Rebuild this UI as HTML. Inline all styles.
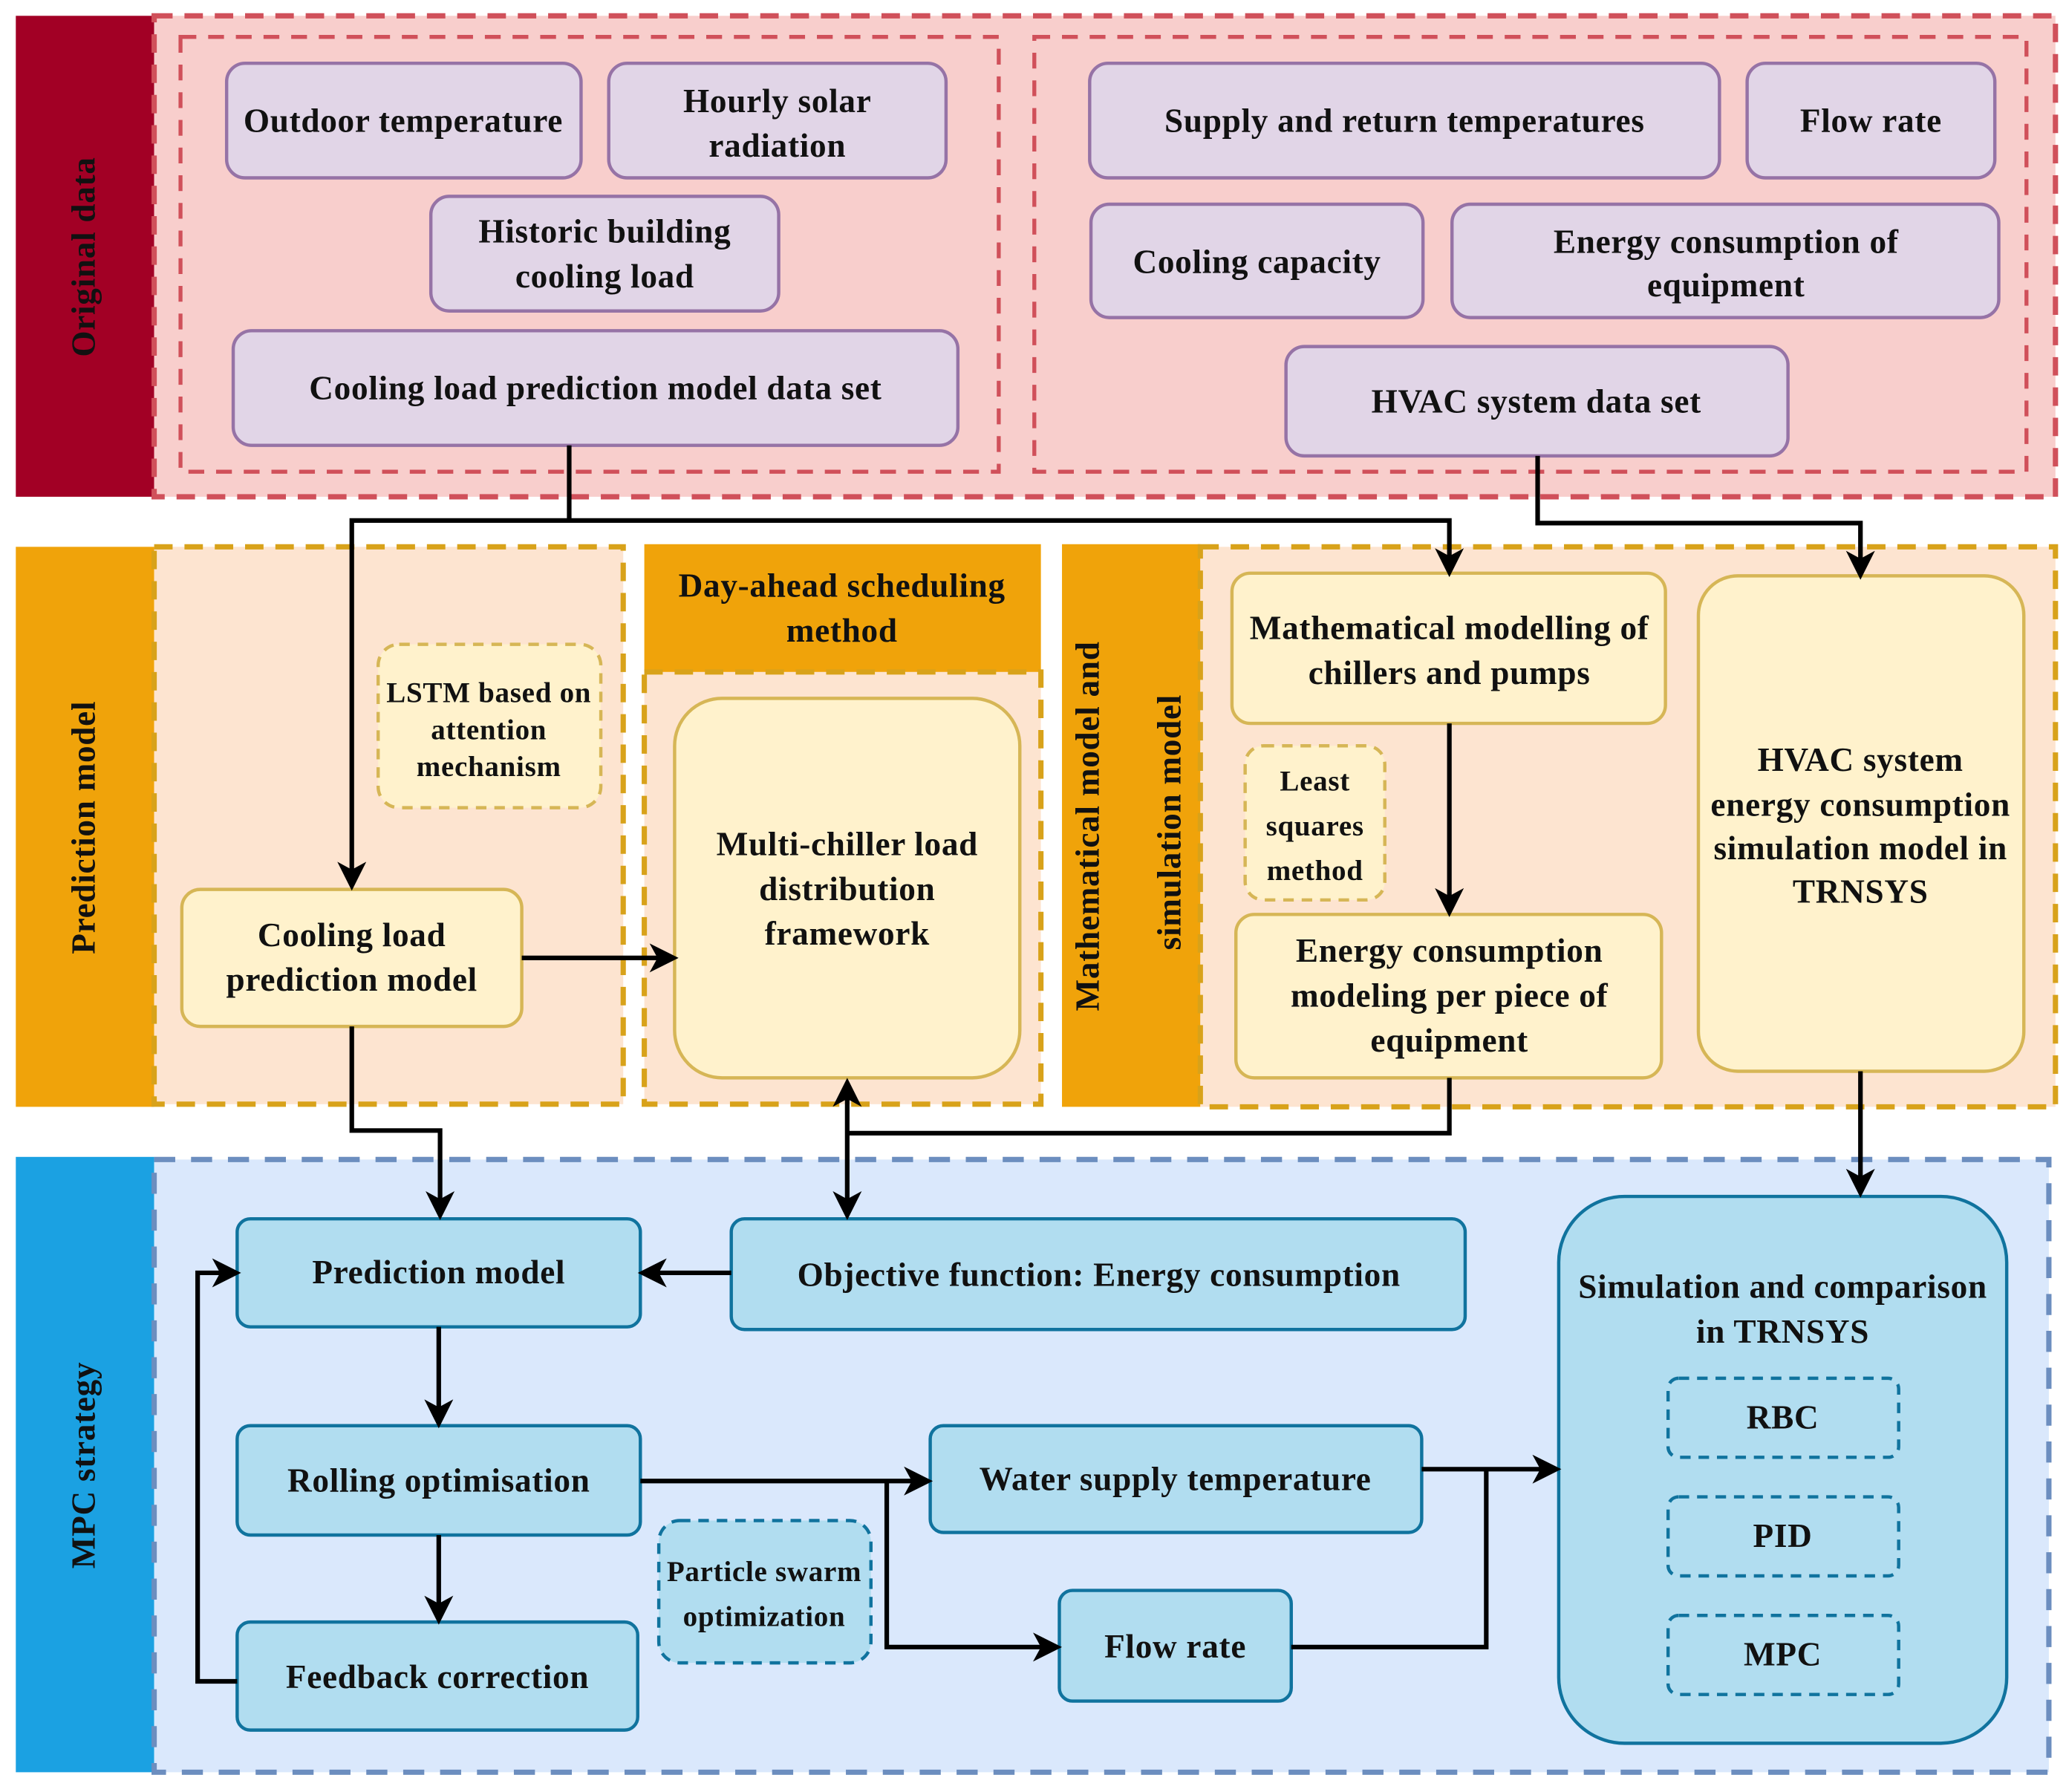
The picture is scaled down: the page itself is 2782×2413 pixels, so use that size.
<!DOCTYPE html>
<html><head><meta charset="utf-8"><style>
html,body{margin:0;padding:0;background:#fff;}
svg{display:block;}
text{font-family:"Liberation Serif",serif;font-weight:bold;fill:#111;letter-spacing:0.4px;}
</style></head><body>
<svg width="2782" height="2413" viewBox="0 0 1568 1360" preserveAspectRatio="none" xmlns="http://www.w3.org/2000/svg">
<defs>
<marker id="ar2" markerWidth="22" markerHeight="22" refX="18" refY="11" orient="auto" markerUnits="userSpaceOnUse" viewBox="0 0 22 22">
<path d="M0,0 L22,11 L0,22 L6,11 z" fill="#000"/></marker>
<marker id="ars" markerWidth="22" markerHeight="22" refX="4" refY="11" orient="auto" markerUnits="userSpaceOnUse" viewBox="0 0 22 22">
<path d="M22,0 L0,11 L22,22 L16,11 z" fill="#000"/></marker>
</defs>

<!-- Band 1 -->
<rect x="12" y="12" width="105" height="365" fill="#a20025"/>
<text transform="translate(72,195) rotate(-90)" text-anchor="middle" font-size="25.5">Original data</text>
<rect x="117" y="12" width="1443" height="365" fill="#f8cecc" stroke="#d0505a" stroke-width="4" stroke-dasharray="14,9"/>
<rect x="137" y="28" width="621" height="330" fill="none" stroke="#d0505a" stroke-width="3" stroke-dasharray="12,9"/>
<rect x="785" y="28" width="753" height="330" fill="none" stroke="#d0505a" stroke-width="3" stroke-dasharray="12,9"/>

<g fill="#e1d5e7" stroke="#9673a6" stroke-width="2.5">
<rect x="172" y="48" width="269" height="87" rx="14"/>
<rect x="462" y="48" width="256" height="87" rx="14"/>
<rect x="327" y="149" width="264" height="87" rx="14"/>
<rect x="177" y="251" width="550" height="87" rx="14"/>
<rect x="827" y="48" width="478" height="87" rx="14"/>
<rect x="1326" y="48" width="188" height="87" rx="14"/>
<rect x="828" y="155" width="252" height="86" rx="14"/>
<rect x="1102" y="155" width="415" height="86" rx="14"/>
<rect x="976" y="263" width="381" height="83" rx="14"/>
</g>
<g font-size="25.5" text-anchor="middle">
<text x="306" y="100">Outdoor temperature</text>
<text x="590" y="85">Hourly solar</text><text x="590" y="119">radiation</text>
<text x="459" y="184">Historic building</text><text x="459" y="218">cooling load</text>
<text x="452" y="303">Cooling load prediction model data set</text>
<text x="1066" y="100">Supply and return temperatures</text>
<text x="1420" y="100">Flow rate</text>
<text x="954" y="207">Cooling capacity</text>
<text x="1310" y="192">Energy consumption of</text><text x="1310" y="225">equipment</text>
<text x="1166" y="313">HVAC system data set</text>
</g>

<!-- Band 2 -->
<rect x="12" y="415" width="105" height="425" fill="#f0a30a"/>
<text transform="translate(72,628) rotate(-90)" text-anchor="middle" font-size="25.5">Prediction model</text>
<rect x="117" y="415" width="356" height="423" fill="#fde4d0" stroke="#d8a21a" stroke-width="4" stroke-dasharray="14,9"/>
<rect x="489" y="413" width="301" height="97" fill="#f0a30a"/>
<text x="639" y="453" text-anchor="middle" font-size="25.5">Day-ahead scheduling</text>
<text x="639" y="487" text-anchor="middle" font-size="25.5">method</text>
<rect x="489" y="510" width="301" height="328" fill="#fde4d0" stroke="#d8a21a" stroke-width="4" stroke-dasharray="14,9"/>
<rect x="806" y="413" width="105" height="427" fill="#f0a30a"/>
<text transform="translate(834,627) rotate(-90)" text-anchor="middle" font-size="25.5">Mathematical model and</text>
<text transform="translate(896,624) rotate(-90)" text-anchor="middle" font-size="25.5">simulation model</text>
<rect x="911" y="415" width="649" height="425" fill="#fde4d0" stroke="#d8a21a" stroke-width="4" stroke-dasharray="14,9"/>

<g fill="#fff2cc" stroke="#d6b656" stroke-width="2.5">
<rect x="287" y="489" width="169" height="124" rx="16" stroke-dasharray="8,6"/>
<rect x="138" y="675" width="258" height="104" rx="14"/>
<rect x="512" y="530" width="262" height="288" rx="36"/>
<rect x="935" y="435" width="329" height="114" rx="14"/>
<rect x="945" y="566" width="106" height="117" rx="14" stroke-dasharray="8,6"/>
<rect x="938" y="694" width="323" height="124" rx="14"/>
<rect x="1289" y="437" width="247" height="376" rx="30"/>
</g>
<g font-size="25.5" text-anchor="middle">
<text x="371" y="533" font-size="22">LSTM based on</text>
<text x="371" y="561" font-size="22">attention</text>
<text x="371" y="589" font-size="22">mechanism</text>
<text x="267" y="718">Cooling load</text><text x="267" y="752">prediction model</text>
<text x="643" y="649">Multi-chiller load</text><text x="643" y="683">distribution</text><text x="643" y="717">framework</text>
<text x="1100" y="485">Mathematical modelling of</text><text x="1100" y="519">chillers and pumps</text>
<text x="998" y="600" font-size="22">Least</text><text x="998" y="634" font-size="22">squares</text><text x="998" y="668" font-size="22">method</text>
<text x="1100" y="730">Energy consumption</text><text x="1100" y="764">modeling per piece of</text><text x="1100" y="798">equipment</text>
<text x="1412" y="585">HVAC system</text><text x="1412" y="619">energy consumption</text><text x="1412" y="652">simulation model in</text><text x="1412" y="685">TRNSYS</text>
</g>

<!-- Band 3 -->
<rect x="12" y="878" width="105" height="467" fill="#1ba1e2"/>
<text transform="translate(72,1112) rotate(-90)" text-anchor="middle" font-size="25.5">MPC strategy</text>
<rect x="117" y="880" width="1438" height="465" fill="#dae8fc" stroke="#6c8ebf" stroke-width="4" stroke-dasharray="16,12"/>

<g fill="#b1ddf0" stroke="#10739e" stroke-width="2.5">
<rect x="180" y="925" width="306" height="82" rx="10"/>
<rect x="555" y="925" width="557" height="84" rx="10"/>
<rect x="180" y="1082" width="306" height="83" rx="10"/>
<rect x="180" y="1231" width="304" height="82" rx="10"/>
<rect x="706" y="1082" width="373" height="81" rx="10"/>
<rect x="804" y="1207" width="176" height="84" rx="10"/>
<rect x="500" y="1154" width="161" height="108" rx="16" stroke-dasharray="8,6"/>
<rect x="1183" y="908" width="340" height="415" rx="50"/>
<rect x="1266" y="1046" width="175" height="60" rx="8" stroke-dasharray="8,6"/>
<rect x="1266" y="1136" width="175" height="60" rx="8" stroke-dasharray="8,6"/>
<rect x="1266" y="1226" width="175" height="60" rx="8" stroke-dasharray="8,6"/>
</g>
<g font-size="25.5" text-anchor="middle">
<text x="333" y="974">Prediction model</text>
<text x="834" y="976">Objective function: Energy consumption</text>
<text x="333" y="1132">Rolling optimisation</text>
<text x="332" y="1281">Feedback correction</text>
<text x="892" y="1131">Water supply temperature</text>
<text x="892" y="1258">Flow rate</text>
<text x="580" y="1200" font-size="22">Particle swarm</text><text x="580" y="1234" font-size="22">optimization</text>
<text x="1353" y="985">Simulation and comparison</text><text x="1353" y="1019">in TRNSYS</text>
<text x="1353" y="1084">RBC</text><text x="1353" y="1174">PID</text><text x="1353" y="1264">MPC</text>
</g>

<!-- connectors -->
<g fill="none" stroke="#000" stroke-width="3.5">
<path d="M432,338 V395 H267 V672" marker-end="url(#ar2)"/>
<path d="M432,395 H1100 V434" marker-end="url(#ar2)"/>
<path d="M1167,346 V397 H1412 V436" marker-end="url(#ar2)"/>
<path d="M1100,549 V692" marker-end="url(#ar2)"/>
<path d="M396,727 H511" marker-end="url(#ar2)"/>
<path d="M267,779 V858 H334 V922" marker-end="url(#ar2)"/>
<path d="M1100,818 V860 H643"/>
<path d="M643,822 V922" marker-start="url(#ars)" marker-end="url(#ar2)"/>
<path d="M1412,813 V905" marker-end="url(#ar2)"/>
<path d="M555,966 H488" marker-end="url(#ar2)"/>
<path d="M333,1007 V1080" marker-end="url(#ar2)"/>
<path d="M333,1165 V1229" marker-end="url(#ar2)"/>
<path d="M180,1276 H150 V966 H179" marker-end="url(#ar2)"/>
<path d="M486,1124 H704" marker-end="url(#ar2)"/>
<path d="M673,1124 V1250 H802" marker-end="url(#ar2)"/>
<path d="M1079,1115 H1181" marker-end="url(#ar2)"/>
<path d="M980,1250 H1128 V1115"/>
</g>
</svg>
</body></html>
